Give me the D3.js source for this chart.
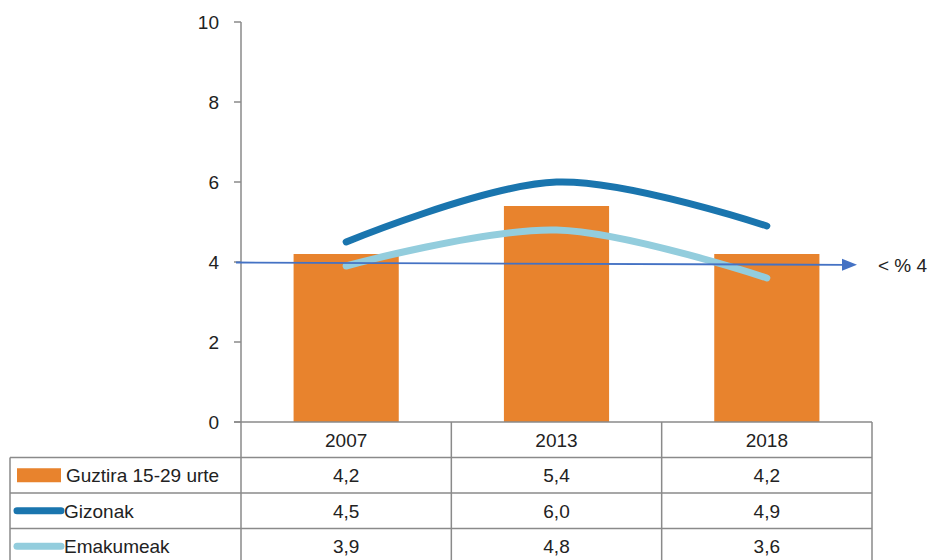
<!DOCTYPE html>
<html>
<head>
<meta charset="utf-8">
<script src="https://cdn.jsdelivr.net/npm/d3@7"></script>
<style>
body{margin:0;background:#fff;}
svg text{font-family:"Liberation Sans","DejaVu Sans",sans-serif;fill:#222;}
</style>
</head>
<body>
<div id="chart"></div>
<script>
var years=["2007","2013","2018"];
var guztira=[4.2,5.4,4.2];
var gizonak=[4.5,6.0,4.9];
var emakumeak=[3.9,4.8,3.6];
var yTicks=[0,2,4,6,8,10];
var seriesNames=["Guztira 15-29 urte","Gizonak","Emakumeak"];
var thresholdVals=[4.0,3.93];
var thresholdLabel="< % 4";

var width=929,height=560;
var axisX=241,tableRight=872,tableLeft=10;
var rowH=35.5,fs=19;
var colBar="#e8832d",colMen="#1a75ae",colWomen="#93cddd",gridc="#8a8a8a";

var svg=d3.select("#chart").append("svg").attr("width",width).attr("height",height);

var y=d3.scaleLinear().domain([0,10]).range([422,22]);
var x=d3.scaleBand().domain(years).range([axisX,tableRight]);
var barW=x.bandwidth()/2;
function cx(d){return x(d)+x.bandwidth()/2;}

// y axis
svg.append("line").attr("x1",axisX).attr("x2",axisX).attr("y1",y(10)).attr("y2",y(0))
	.attr("stroke",gridc).attr("stroke-width",1.5);
svg.selectAll(".tick").data(yTicks).enter().append("line")
	.attr("x1",axisX-7).attr("x2",axisX).attr("y1",function(d){return y(d);}).attr("y2",function(d){return y(d);})
	.attr("stroke",gridc).attr("stroke-width",1.5);
svg.selectAll(".ylab").data(yTicks).enter().append("text")
	.attr("x",axisX-22).attr("y",function(d){return y(d)+7;})
	.attr("text-anchor","end").attr("font-size",fs).text(function(d){return d;});

// bars
svg.selectAll(".bar").data(guztira).enter().append("rect")
	.attr("x",function(d,i){return cx(years[i])-barW/2;})
	.attr("y",function(d){return y(d);})
	.attr("width",barW).attr("height",function(d){return y(0)-y(d);})
	.attr("fill",colBar);

// lines
var line=d3.line().x(function(d,i){return cx(years[i]);}).y(function(d){return y(d);})
	.curve(d3.curveCatmullRom.alpha(0.5));
svg.append("path").datum(emakumeak).attr("d",line).attr("fill","none")
	.attr("stroke",colWomen).attr("stroke-width",7).attr("stroke-linecap","round");
svg.append("path").datum(gizonak).attr("d",line).attr("fill","none")
	.attr("stroke",colMen).attr("stroke-width",7).attr("stroke-linecap","round");

// threshold arrow
var arrEnd=845;
svg.append("line").attr("x1",axisX-5).attr("x2",arrEnd).attr("y1",y(thresholdVals[0])+0.5).attr("y2",y(thresholdVals[1]))
	.attr("stroke","#4472c4").attr("stroke-width",1.8);
var ay=y(thresholdVals[1]);
svg.append("path").attr("d","M"+(arrEnd-3)+","+(ay-6)+"L"+(arrEnd+12)+","+ay+"L"+(arrEnd-3)+","+(ay+6)+"Z")
	.attr("fill","#4472c4");
svg.append("text").attr("x",878).attr("y",ay+7).attr("font-size",fs).text(thresholdLabel);

// data table
var tbl=svg.append("g");
var rowsTop=y(0);
var tableBottom=rowsTop+rowH*4;
// horizontal lines
tbl.append("line").attr("x1",axisX-7).attr("x2",tableRight).attr("y1",rowsTop).attr("y2",rowsTop);
[1,2,3].forEach(function(r){
	tbl.append("line").attr("x1",tableLeft).attr("x2",tableRight).attr("y1",rowsTop+rowH*r).attr("y2",rowsTop+rowH*r);
});
// vertical lines
tbl.append("line").attr("x1",tableLeft).attr("x2",tableLeft).attr("y1",rowsTop+rowH).attr("y2",tableBottom);
x.domain().forEach(function(d){
	tbl.append("line").attr("x1",x(d)+x.bandwidth()).attr("x2",x(d)+x.bandwidth()).attr("y1",rowsTop).attr("y2",tableBottom);
});
tbl.append("line").attr("x1",axisX).attr("x2",axisX).attr("y1",rowsTop).attr("y2",tableBottom);
tbl.selectAll("line").attr("stroke",gridc).attr("stroke-width",1.5);

// header
tbl.selectAll(".hd").data(years).enter().append("text")
	.attr("x",function(d){return cx(d);}).attr("y",rowsTop+rowH/2+7)
	.attr("text-anchor","middle").attr("font-size",fs).text(function(d){return d;});

var fmt=function(v){return v.toFixed(1).replace(".",",");};
[guztira,gizonak,emakumeak].forEach(function(s,r){
	var ry=rowsTop+rowH*(r+1);
	tbl.selectAll(".v"+r).data(s).enter().append("text")
		.attr("x",function(d,i){return cx(years[i]);}).attr("y",ry+rowH/2+7)
		.attr("text-anchor","middle").attr("font-size",fs).text(fmt);
	tbl.append("text").attr("x",r==0?66:64).attr("y",ry+rowH/2+7).attr("font-size",fs).text(seriesNames[r]);
});
// legend keys
var r1=rowsTop+rowH;
tbl.append("rect").attr("x",17).attr("y",r1+rowH/2-7).attr("width",44).attr("height",14).attr("fill",colBar);
tbl.append("line").attr("x1",17).attr("x2",61).attr("y1",r1+rowH*1.5).attr("y2",r1+rowH*1.5)
	.attr("stroke",colMen).attr("stroke-width",7).attr("stroke-linecap","round");
tbl.append("line").attr("x1",17).attr("x2",61).attr("y1",r1+rowH*2.5).attr("y2",r1+rowH*2.5)
	.attr("stroke",colWomen).attr("stroke-width",7).attr("stroke-linecap","round");
</script>
</body>
</html>
